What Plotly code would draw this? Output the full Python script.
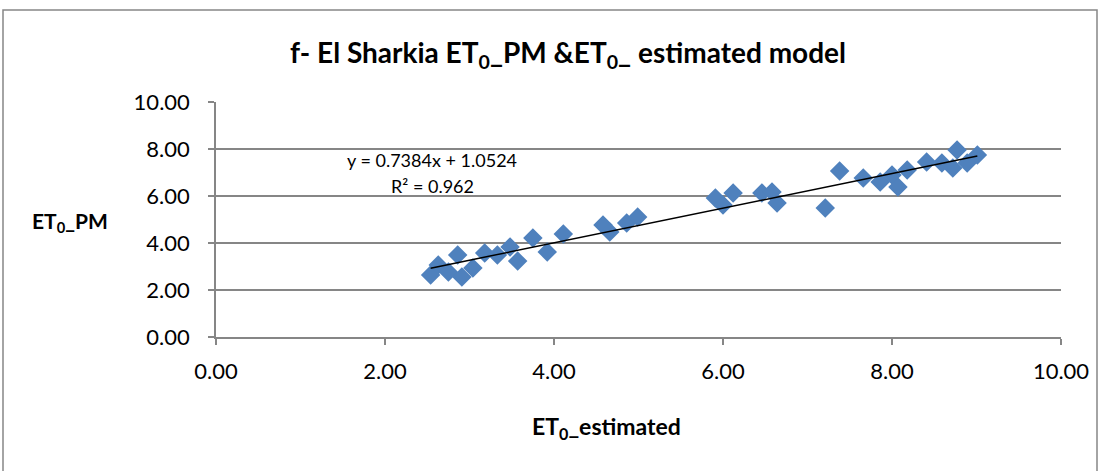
import plotly.graph_objects as go

# Data
et0_estimated = [2.54, 2.63, 2.75, 2.86, 2.91, 3.04, 3.18, 3.33, 3.48, 3.57, 3.75, 3.92,
                 4.11, 4.58, 4.66, 4.86, 4.99, 5.91, 6.00, 6.12, 6.46, 6.58, 6.64, 7.21,
                 7.38, 7.66, 7.86, 8.00, 8.07, 8.18, 8.41, 8.59, 8.72, 8.77, 8.89, 9.01]
et0_pm = [2.64, 3.06, 2.77, 3.49, 2.55, 2.94, 3.57, 3.49, 3.83, 3.23, 4.21, 3.62,
          4.38, 4.77, 4.47, 4.85, 5.11, 5.91, 5.62, 6.13, 6.13, 6.17, 5.70, 5.49,
          7.06, 6.77, 6.60, 6.89, 6.38, 7.11, 7.45, 7.40, 7.19, 7.96, 7.40, 7.74]

slope = 0.7384
intercept = 1.0524
r2 = 0.962

tick_vals = [0, 2, 4, 6, 8, 10]
tick_text = ["0.00", "2.00", "4.00", "6.00", "8.00", "10.00"]

title_text = "<b>f- El Sharkia ET<sub>0</sub>_PM &ET<sub>0</sub>_ estimated model</b>"
x_title = "<b>ET<sub>0</sub>_estimated</b>"
y_title = "<b>ET<sub>0</sub>_PM</b>"

FONT = "Lato"
W, H = 1100, 471
L, R, T, B = 216, 39, 102, 134
pw, ph = W - L - R, H - T - B

def px(x):
    return (x - L) / pw

def py(y):
    return (H - B - y) / ph

fig = go.Figure()
fig.add_trace(go.Scatter(
    x=et0_estimated, y=et0_pm, mode="markers",
    marker=dict(symbol="diamond", size=15, color="#4F81BD", line=dict(width=0)),
    showlegend=False, hoverinfo="x+y"))

xmin, xmax = min(et0_estimated), max(et0_estimated)
fig.add_trace(go.Scatter(
    x=[xmin, xmax], y=[slope * xmin + intercept, slope * xmax + intercept],
    mode="lines", line=dict(color="black", width=1.5), showlegend=False,
    hoverinfo="skip"))

axis_common = dict(
    range=[0, 10], tickvals=tick_vals, ticktext=tick_text,
    ticks="outside", ticklen=6, tickcolor="#868686", tickwidth=1.5,
    showline=True, linecolor="#868686", linewidth=1.5,
    tickfont=dict(family=FONT, size=22, color="black"),
    zeroline=False, fixedrange=True,
)

fig.update_layout(
    width=W, height=H,
    margin=dict(l=L, r=R, t=T, b=B),
    paper_bgcolor="white", plot_bgcolor="white",
    font=dict(family=FONT, color="black"),
    xaxis=dict(showgrid=False, ticklabelstandoff=8, **axis_common),
    yaxis=dict(showgrid=True, gridcolor="#868686", gridwidth=1.5,
               ticklabelstandoff=14, **axis_common),
    annotations=[
        dict(text=title_text, x=px(568), y=py(54), xref="paper", yref="paper",
             showarrow=False, font=dict(family=FONT, size=28, color="black"),
             xanchor="center", yanchor="middle"),
        dict(text=x_title, x=px(606), y=py(427), xref="paper", yref="paper",
             showarrow=False, font=dict(family=FONT, size=23, color="black"),
             xanchor="center", yanchor="middle"),
        dict(text=y_title, x=px(70), y=py(222), xref="paper", yref="paper",
             showarrow=False, font=dict(family=FONT, size=21, color="black"),
             xanchor="center", yanchor="middle"),
        dict(text=f"y = {slope}x + {intercept}", x=px(432), y=py(160),
             xref="paper", yref="paper", showarrow=False,
             font=dict(family=FONT, size=18, color="black"),
             xanchor="center", yanchor="middle"),
        dict(text=f"R² = {r2}", x=px(432), y=py(186),
             xref="paper", yref="paper", showarrow=False,
             font=dict(family=FONT, size=18, color="black"),
             xanchor="center", yanchor="middle"),
    ],
    shapes=[
        dict(type="rect", xref="paper", yref="paper",
             x0=px(3), x1=px(1097), y0=py(10), y1=py(520),
             line=dict(color="#868686", width=1.5), fillcolor="rgba(0,0,0,0)",
             layer="below"),
    ],
)

fig.write_html("out.html")
